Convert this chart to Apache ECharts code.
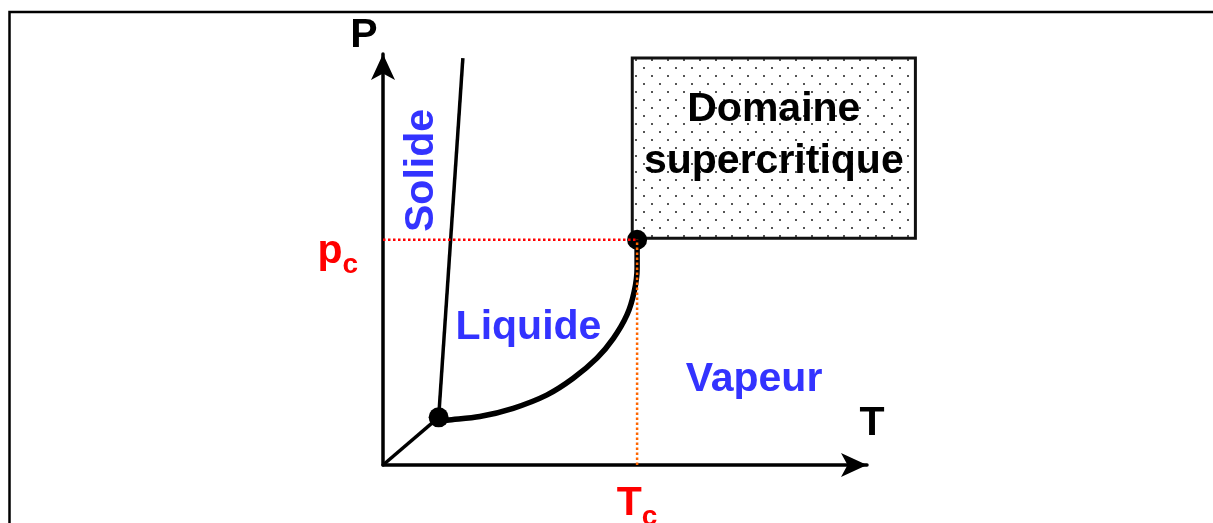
<!DOCTYPE html>
<html>
<head>
<meta charset="utf-8">
<title>Diagramme de phases</title>
<script src="https://cdn.jsdelivr.net/npm/echarts@6/dist/echarts.min.js"></script>
<style>
  html, body { margin: 0; padding: 0; background: #fff; }
  #chart { width: 1213px; height: 523px; }
</style>
</head>
<body>
<div id="chart"></div>
<script>
// T and P in arbitrary units, both axes run from 0 to 100
const triplePoint = [11.5, 11.6];
const criticalPoint = [52.5, 54.8];
const sublimationCurve = [[0, 0], [11.5, 11.6]];
const fusionCurve = [[11.5, 11.6], [16.5, 99]];
const vaporizationCurve = [
  [11.6, 10.6], [13.2, 10.9], [20.0, 11.8], [26.9, 13.8], [33.8, 17.0],
  [39.3, 21.1], [44.2, 26.0], [47.6, 30.8], [50.4, 36.5], [51.9, 42.2],
  [52.5, 47.9], [52.5, 54.8]
];
const supercriticalDomain = [[51.5, 55.2], [110, 99]];
const pcLine = [[0, 54.8], [52.5, 54.8]];
const tcLine = [[52.5, 0], [52.5, 54.8]];
const regionNames = ['Solide', 'Liquide', 'Vapeur', 'Domaine\nsupercritique'];
const axisNames = ['T', 'P'];

const FONT = '"Liberation Sans", Arial, sans-serif';
const BLUE = '#3333ff';

function dotPattern() {
  const c = document.createElement('canvas');
  c.width = 16;
  c.height = 16;
  const ctx = c.getContext('2d');
  ctx.fillStyle = '#fff';
  ctx.fillRect(0, 0, 16, 16);
  ctx.fillStyle = '#555';
  ctx.fillRect(3, 3, 2, 2);
  ctx.fillRect(11, 11, 2, 2);
  return c;
}

function label(text, x, y, color, extra) {
  return Object.assign({
    type: 'text',
    x: x,
    y: y,
    silent: true,
    style: {
      text: text,
      fill: color,
      font: 'bold 41px ' + FONT,
      align: 'center',
      textAlign: 'center',
      verticalAlign: 'middle',
      textVerticalAlign: 'middle'
    }
  }, extra || {});
}

const chart = echarts.init(document.getElementById('chart'));

const option = {
  animation: false,
  backgroundColor: '#fff',
  grid: { left: 383, bottom: 58, width: 484, height: 411, containLabel: false, outerBoundsMode: 'none' },
  xAxis: {
    type: 'value',
    min: 0,
    max: 100,
    splitLine: { show: false },
    axisTick: { show: false },
    axisLine: {
      onZero: false,
      symbol: ['none', 'arrow'],
      symbolSize: [18, 26],
      symbolOffset: [0, 0],
      lineStyle: { color: '#000', width: 3.5 }
    },
    axisLabel: {
      customValues: [criticalPoint[0]],
      margin: 25,
      formatter: () => '{a|T}{b|c}',
      rich: {
        a: { fontFamily: FONT, fontWeight: 'bold', fontSize: 41, lineHeight: 41, color: '#ff0000', padding: [0, 0, 7, 0], verticalAlign: 'bottom' },
        b: { fontFamily: FONT, fontWeight: 'bold', fontSize: 28, lineHeight: 28, color: '#ff0000', verticalAlign: 'bottom' }
      }
    }
  },
  yAxis: {
    type: 'value',
    min: 0,
    max: 100,
    splitLine: { show: false },
    axisTick: { show: false },
    axisLine: {
      onZero: false,
      symbol: ['none', 'arrow'],
      symbolSize: [18, 26],
      symbolOffset: [0, 0],
      lineStyle: { color: '#000', width: 3.5 }
    },
    axisLabel: {
      customValues: [criticalPoint[1]],
      margin: 25,
      padding: [39, 0, 0, 0],
      formatter: () => '{a|p}{b|c}',
      rich: {
        a: { fontFamily: FONT, fontWeight: 'bold', fontSize: 41, lineHeight: 41, color: '#ff0000', padding: [0, 0, 8, 0], verticalAlign: 'bottom' },
        b: { fontFamily: FONT, fontWeight: 'bold', fontSize: 28, lineHeight: 28, color: '#ff0000', verticalAlign: 'bottom' }
      }
    }
  },
  graphic: [
    {
      type: 'rect',
      silent: true,
      shape: { x: 9.5, y: 12, width: 1400, height: 700 },
      style: { fill: 'none', stroke: '#000', lineWidth: 2.5 }
    },
    label(axisNames[1], 364, 35.5, '#000'),
    label(axisNames[0], 872, 424, '#000'),
    label(regionNames[0], 422, 170.5, BLUE, { rotation: Math.PI / 2 }),
    label(regionNames[1], 528.5, 327.5, BLUE),
    label(regionNames[2], 754, 380, BLUE)
  ],
  series: [
    {
      type: 'custom',
      z: 1,
      clip: false,
      data: [supercriticalDomain[0].concat(supercriticalDomain[1])],
      renderItem: function (params, api) {
        const p0 = api.coord([api.value(0), api.value(1)]);
        const p1 = api.coord([api.value(2), api.value(3)]);
        const x = Math.min(p0[0], p1[0]);
        const y = Math.min(p0[1], p1[1]);
        const w = Math.abs(p1[0] - p0[0]);
        const h = Math.abs(p1[1] - p0[1]);
        return {
          type: 'group',
          children: [
            {
              type: 'rect',
              shape: { x: x, y: y, width: w, height: h },
              style: { fill: { image: dotPattern(), repeat: 'repeat' }, stroke: '#111', lineWidth: 3 }
            },
            {
              type: 'text',
              x: x + w / 2,
              y: y + h / 2 - 12,
              style: {
                text: regionNames[3],
                fill: '#000',
                font: 'bold 41px ' + FONT,
                lineHeight: 52,
                align: 'center',
                verticalAlign: 'middle'
              }
            }
          ]
        };
      }
    },
    {
      type: 'line',
      z: 3,
      data: sublimationCurve,
      symbol: 'none',
      lineStyle: { color: '#000', width: 3.5 }
    },
    {
      type: 'line',
      z: 3,
      data: fusionCurve,
      symbol: 'none',
      lineStyle: { color: '#000', width: 3.5 }
    },
    {
      type: 'line',
      z: 3,
      data: vaporizationCurve,
      smooth: 0.3,
      symbol: 'none',
      lineStyle: { color: '#000', width: 5.5 }
    },
    {
      type: 'scatter',
      z: 4,
      data: [triplePoint, criticalPoint],
      symbolSize: 20,
      itemStyle: { color: '#000', opacity: 1 }
    },
    {
      type: 'line',
      z: 5,
      data: pcLine,
      symbol: 'none',
      lineStyle: { color: '#ff0000', width: 2.5, type: [2.5, 2.5] }
    },
    {
      type: 'line',
      z: 5,
      data: tcLine,
      symbol: 'none',
      lineStyle: { color: '#ff6600', width: 2.5, type: [2.5, 2.5] }
    }
  ]
};

chart.setOption(option);

window.addEventListener('resize', () => chart.resize());
</script>
</body>
</html>
